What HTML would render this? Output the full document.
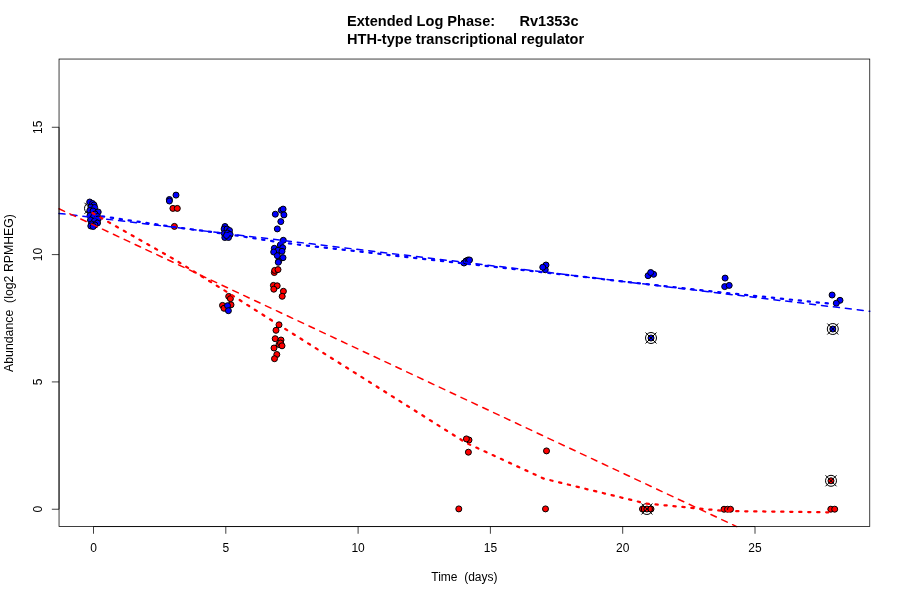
<!DOCTYPE html>
<html><head><meta charset="utf-8"><style>
html,body{margin:0;padding:0;background:#fff;width:900px;height:600px;overflow:hidden}
svg{display:block;will-change:transform}
text{font-family:"Liberation Sans",sans-serif;font-size:12px;fill:#000;white-space:pre}
.t{font-weight:bold;font-size:15.2px}
</style></head><body>
<svg width="900" height="600" viewBox="0 0 900 600">
<rect width="900" height="600" fill="#fff"/>
<g stroke="#000" stroke-width="1">
<circle cx="172.90" cy="208.40" r="3.0" fill="#ff0000"/><circle cx="177.30" cy="208.40" r="3.0" fill="#ff0000"/><circle cx="174.40" cy="226.40" r="3.0" fill="#ff0000"/><circle cx="228.70" cy="296.40" r="3.0" fill="#ff0000"/><circle cx="230.40" cy="298.70" r="3.0" fill="#ff0000"/><circle cx="222.50" cy="305.40" r="3.0" fill="#ff0000"/><circle cx="224.00" cy="308.30" r="3.0" fill="#ff0000"/><circle cx="231.00" cy="304.80" r="3.0" fill="#ff0000"/><circle cx="274.30" cy="272.50" r="3.0" fill="#ff0000"/><circle cx="274.70" cy="270.40" r="3.0" fill="#ff0000"/><circle cx="278.00" cy="269.60" r="3.0" fill="#ff0000"/><circle cx="273.40" cy="285.40" r="3.0" fill="#ff0000"/><circle cx="277.20" cy="285.80" r="3.0" fill="#ff0000"/><circle cx="273.80" cy="289.20" r="3.0" fill="#ff0000"/><circle cx="283.40" cy="291.30" r="3.0" fill="#ff0000"/><circle cx="282.20" cy="296.30" r="3.0" fill="#ff0000"/><circle cx="279.00" cy="324.80" r="3.0" fill="#ff0000"/><circle cx="276.00" cy="330.30" r="3.0" fill="#ff0000"/><circle cx="275.20" cy="338.70" r="3.0" fill="#ff0000"/><circle cx="281.00" cy="340.00" r="3.0" fill="#ff0000"/><circle cx="279.00" cy="344.50" r="3.0" fill="#ff0000"/><circle cx="280.50" cy="343.00" r="3.0" fill="#ff0000"/><circle cx="282.00" cy="345.80" r="3.0" fill="#ff0000"/><circle cx="274.00" cy="348.00" r="3.0" fill="#ff0000"/><circle cx="276.80" cy="354.50" r="3.0" fill="#ff0000"/><circle cx="274.50" cy="358.70" r="3.0" fill="#ff0000"/><circle cx="469.00" cy="440.00" r="3.0" fill="#ff0000"/><circle cx="466.40" cy="438.90" r="3.0" fill="#ff0000"/><circle cx="468.40" cy="452.20" r="3.0" fill="#ff0000"/><circle cx="458.80" cy="508.90" r="3.0" fill="#ff0000"/><circle cx="546.50" cy="450.90" r="3.0" fill="#ff0000"/><circle cx="545.50" cy="508.90" r="3.0" fill="#ff0000"/><circle cx="642.50" cy="509.00" r="3.0" fill="#ff0000"/><circle cx="646.90" cy="509.00" r="3.0" fill="#ff0000"/><circle cx="651.00" cy="509.00" r="3.0" fill="#ff0000"/><circle cx="724.00" cy="509.25" r="3.0" fill="#ff0000"/><circle cx="727.50" cy="509.25" r="3.0" fill="#ff0000"/><circle cx="730.50" cy="509.25" r="3.0" fill="#ff0000"/><circle cx="830.80" cy="509.20" r="3.0" fill="#ff0000"/><circle cx="834.70" cy="509.20" r="3.0" fill="#ff0000"/><circle cx="831.00" cy="480.80" r="3.0" fill="#ff0000"/><circle cx="92.00" cy="212.00" r="3.0" fill="#ff0000"/><circle cx="95.00" cy="214.00" r="3.0" fill="#ff0000"/>
<g stroke-width="1"><circle cx="90.00" cy="208.30" r="5.5" fill="none"/><path d="M84.50 202.80L95.50 213.80M84.50 213.80L95.50 202.80"/><circle cx="646.90" cy="509.00" r="5.5" fill="none"/><path d="M641.40 503.50L652.40 514.50M641.40 514.50L652.40 503.50"/><circle cx="831.00" cy="480.80" r="5.5" fill="none"/><path d="M825.50 475.30L836.50 486.30M825.50 486.30L836.50 475.30"/></g>
<circle cx="89.70" cy="202.00" r="3.0" fill="#0000ff"/><circle cx="92.50" cy="203.50" r="3.0" fill="#0000ff"/><circle cx="94.00" cy="205.00" r="3.0" fill="#0000ff"/><circle cx="91.00" cy="207.00" r="3.0" fill="#0000ff"/><circle cx="94.70" cy="207.50" r="3.0" fill="#0000ff"/><circle cx="89.80" cy="210.50" r="3.0" fill="#0000ff"/><circle cx="93.00" cy="211.00" r="3.0" fill="#0000ff"/><circle cx="98.20" cy="212.00" r="3.0" fill="#0000ff"/><circle cx="95.00" cy="214.00" r="3.0" fill="#0000ff"/><circle cx="90.00" cy="215.50" r="3.0" fill="#0000ff"/><circle cx="93.50" cy="217.00" r="3.0" fill="#0000ff"/><circle cx="97.50" cy="216.50" r="3.0" fill="#0000ff"/><circle cx="98.20" cy="219.00" r="3.0" fill="#0000ff"/><circle cx="90.50" cy="220.00" r="3.0" fill="#0000ff"/><circle cx="94.50" cy="221.00" r="3.0" fill="#0000ff"/><circle cx="97.50" cy="223.00" r="3.0" fill="#0000ff"/><circle cx="91.50" cy="224.00" r="3.0" fill="#0000ff"/><circle cx="95.00" cy="225.00" r="3.0" fill="#0000ff"/><circle cx="90.80" cy="226.00" r="3.0" fill="#0000ff"/><circle cx="93.20" cy="226.50" r="3.0" fill="#0000ff"/><circle cx="176.00" cy="195.10" r="3.0" fill="#0000ff"/><circle cx="169.40" cy="199.50" r="3.0" fill="#0000ff"/><circle cx="169.40" cy="201.00" r="3.0" fill="#0000ff"/><circle cx="225.00" cy="226.50" r="3.0" fill="#0000ff"/><circle cx="224.10" cy="229.00" r="3.0" fill="#0000ff"/><circle cx="227.00" cy="229.00" r="3.0" fill="#0000ff"/><circle cx="229.50" cy="230.50" r="3.0" fill="#0000ff"/><circle cx="224.30" cy="233.50" r="3.0" fill="#0000ff"/><circle cx="227.50" cy="233.00" r="3.0" fill="#0000ff"/><circle cx="230.10" cy="234.50" r="3.0" fill="#0000ff"/><circle cx="224.80" cy="237.50" r="3.0" fill="#0000ff"/><circle cx="228.50" cy="237.50" r="3.0" fill="#0000ff"/><circle cx="226.50" cy="235.50" r="3.0" fill="#0000ff"/><circle cx="227.50" cy="305.70" r="3.0" fill="#0000ff"/><circle cx="228.40" cy="310.70" r="3.0" fill="#0000ff"/><circle cx="281.30" cy="210.30" r="3.0" fill="#0000ff"/><circle cx="283.10" cy="209.10" r="3.0" fill="#0000ff"/><circle cx="275.30" cy="214.20" r="3.0" fill="#0000ff"/><circle cx="283.90" cy="214.90" r="3.0" fill="#0000ff"/><circle cx="280.80" cy="221.60" r="3.0" fill="#0000ff"/><circle cx="277.30" cy="228.90" r="3.0" fill="#0000ff"/><circle cx="283.30" cy="240.30" r="3.0" fill="#0000ff"/><circle cx="280.30" cy="245.00" r="3.0" fill="#0000ff"/><circle cx="274.30" cy="248.30" r="3.0" fill="#0000ff"/><circle cx="282.70" cy="247.70" r="3.0" fill="#0000ff"/><circle cx="278.00" cy="250.30" r="3.0" fill="#0000ff"/><circle cx="273.70" cy="252.00" r="3.0" fill="#0000ff"/><circle cx="282.00" cy="251.30" r="3.0" fill="#0000ff"/><circle cx="277.30" cy="255.70" r="3.0" fill="#0000ff"/><circle cx="283.00" cy="257.70" r="3.0" fill="#0000ff"/><circle cx="278.70" cy="261.30" r="3.0" fill="#0000ff"/><circle cx="278.30" cy="262.30" r="3.0" fill="#0000ff"/><circle cx="464.00" cy="263.00" r="3.0" fill="#0000ff"/><circle cx="466.00" cy="261.00" r="3.0" fill="#0000ff"/><circle cx="468.00" cy="260.00" r="3.0" fill="#0000ff"/><circle cx="469.50" cy="260.00" r="3.0" fill="#0000ff"/><circle cx="545.25" cy="269.75" r="3.0" fill="#0000ff"/><circle cx="546.00" cy="265.00" r="3.0" fill="#0000ff"/><circle cx="542.75" cy="267.25" r="3.0" fill="#0000ff"/><circle cx="648.10" cy="275.70" r="3.0" fill="#0000ff"/><circle cx="653.60" cy="274.30" r="3.0" fill="#0000ff"/><circle cx="650.70" cy="272.50" r="3.0" fill="#0000ff"/><circle cx="725.10" cy="278.10" r="3.0" fill="#0000ff"/><circle cx="724.70" cy="286.60" r="3.0" fill="#0000ff"/><circle cx="729.20" cy="285.40" r="3.0" fill="#0000ff"/><circle cx="832.10" cy="295.00" r="3.0" fill="#0000ff"/><circle cx="840.00" cy="300.30" r="3.0" fill="#0000ff"/><circle cx="836.30" cy="303.20" r="3.0" fill="#0000ff"/><circle cx="651.00" cy="338.00" r="3.0" fill="#0000ff"/><circle cx="832.80" cy="329.00" r="3.0" fill="#0000ff"/>
<g stroke-width="1"><circle cx="651.00" cy="338.00" r="5.5" fill="none"/><path d="M645.50 332.50L656.50 343.50M645.50 343.50L656.50 332.50"/><circle cx="832.80" cy="329.00" r="5.5" fill="none"/><path d="M827.30 323.50L838.30 334.50M827.30 334.50L838.30 323.50"/></g>
</g>
<g fill="none" stroke-linecap="round" stroke-linejoin="round">
<line x1="59.04" y1="213.4" x2="869.76" y2="311.25" stroke="#0000ff" stroke-width="1.5" stroke-dasharray="6 6"/>
<polyline points="93.00,215.00 174.00,227.00 227.00,234.00 283.00,242.80 466.00,263.80 545.00,272.50 650.00,284.50 727.00,293.00 833.00,304.00" stroke="#0000ff" stroke-width="2.25" stroke-dasharray="2.25 6.75"/>
<polyline points="59.04,208.8 736.67,526.56" stroke="#ff0000" stroke-width="1.5" stroke-dasharray="6 6"/>
<polyline points="92.50,213.00 174.00,259.20 227.00,292.00 279.00,325.00 466.00,442.80 544.00,478.70 645.90,503.50 725.00,511.00 828.00,512.30 833.00,512.30" stroke="#ff0000" stroke-width="2.25" stroke-dasharray="2.25 6.75"/>
</g>
<g stroke="#000" stroke-width="0.75" fill="none">
<rect x="59.04" y="59.04" width="810.72" height="467.52"/>
<line x1="93.50" y1="526.56" x2="755.00" y2="526.56"/>
<line x1="93.50" y1="526.56" x2="93.50" y2="533.76"/><line x1="225.80" y1="526.56" x2="225.80" y2="533.76"/><line x1="358.10" y1="526.56" x2="358.10" y2="533.76"/><line x1="490.40" y1="526.56" x2="490.40" y2="533.76"/><line x1="622.70" y1="526.56" x2="622.70" y2="533.76"/><line x1="755.00" y1="526.56" x2="755.00" y2="533.76"/>
<line x1="59.04" y1="509.24" x2="59.04" y2="127.28"/>
<line x1="59.04" y1="509.24" x2="51.84" y2="509.24"/><line x1="59.04" y1="381.92" x2="51.84" y2="381.92"/><line x1="59.04" y1="254.60" x2="51.84" y2="254.60"/><line x1="59.04" y1="127.28" x2="51.84" y2="127.28"/>
</g>
<text x="93.50" y="551.7" text-anchor="middle">0</text><text x="225.80" y="551.7" text-anchor="middle">5</text><text x="358.10" y="551.7" text-anchor="middle">10</text><text x="490.40" y="551.7" text-anchor="middle">15</text><text x="622.70" y="551.7" text-anchor="middle">20</text><text x="755.00" y="551.7" text-anchor="middle">25</text>
<text transform="translate(41.7,509.24) rotate(-90)" text-anchor="middle">0</text><text transform="translate(41.7,381.92) rotate(-90)" text-anchor="middle">5</text><text transform="translate(41.7,254.60) rotate(-90)" text-anchor="middle">10</text><text transform="translate(41.7,127.28) rotate(-90)" text-anchor="middle">15</text>
<text x="464.4" y="580.6" text-anchor="middle">Time  (days)</text>
<text transform="translate(13.1,293.0) rotate(-90)" text-anchor="middle" style="font-size:12.3px">Abundance  (log2 RPMHEG)</text>
<text class="t" transform="translate(347,25.8) scale(0.96,1)">Extended Log Phase:      Rv1353c</text>
<text class="t" transform="translate(347,44.1) scale(0.96,1)">HTH-type transcriptional regulator</text>
</svg>
</body></html>
